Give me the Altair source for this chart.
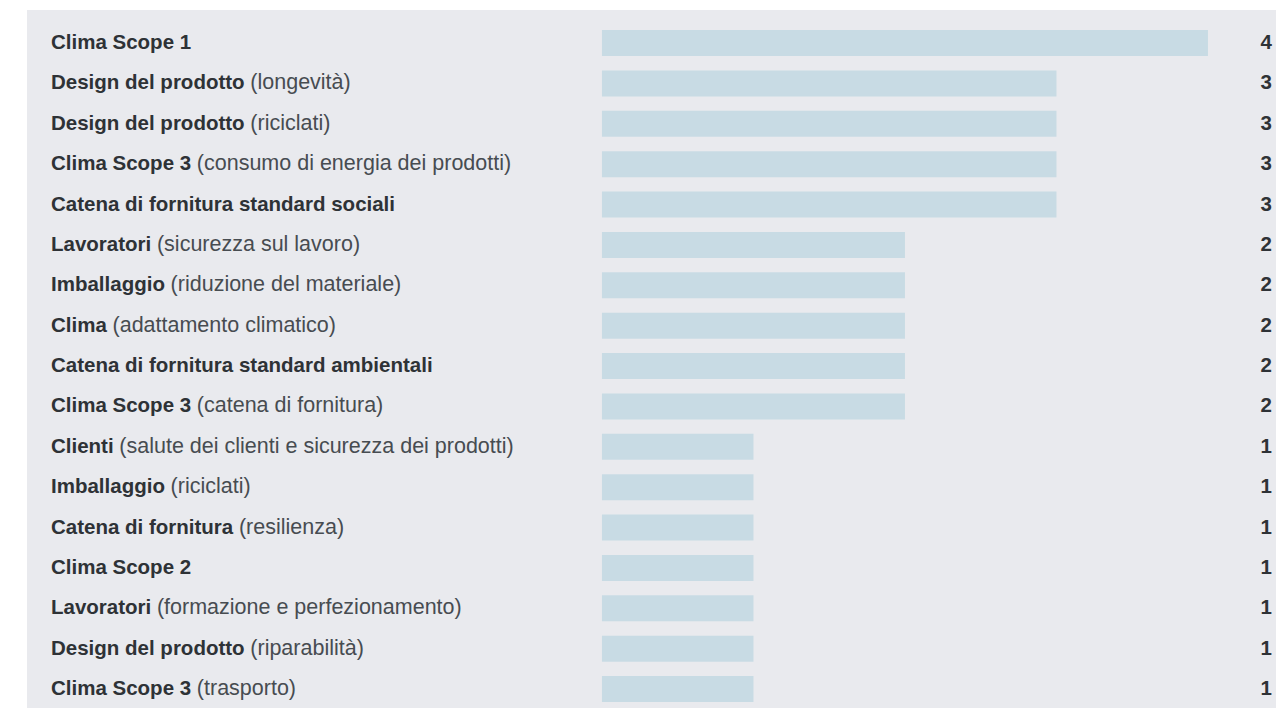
import altair as alt
import pandas as pd

bold_labels = [
    "Clima Scope 1",
    "Design del prodotto",
    "Design del prodotto",
    "Clima Scope 3",
    "Catena di fornitura standard sociali",
    "Lavoratori",
    "Imballaggio",
    "Clima",
    "Catena di fornitura standard ambientali",
    "Clima Scope 3",
    "Clienti",
    "Imballaggio",
    "Catena di fornitura",
    "Clima Scope 2",
    "Lavoratori",
    "Design del prodotto",
    "Clima Scope 3",
]
detail_labels = [
    "",
    "(longevità)",
    "(riciclati)",
    "(consumo di energia dei prodotti)",
    "",
    "(sicurezza sul lavoro)",
    "(riduzione del materiale)",
    "(adattamento climatico)",
    "",
    "(catena di fornitura)",
    "(salute dei clienti e sicurezza dei prodotti)",
    "(riciclati)",
    "(resilienza)",
    "",
    "(formazione e perfezionamento)",
    "(riparabilità)",
    "(trasporto)",
]
counts = [4, 3, 3, 3, 3, 2, 2, 2, 2, 2, 1, 1, 1, 1, 1, 1, 1]

# Liberation Sans Bold (Arial-compatible) advance widths per 1000 em
BOLD_W = {
    " ": 278, "C": 722, "D": 722, "I": 278, "L": 611, "S": 667,
    "a": 556, "b": 611, "c": 556, "d": 611, "e": 556, "f": 333, "g": 611,
    "h": 611, "i": 278, "l": 278, "m": 889, "n": 611, "o": 611, "p": 611,
    "r": 389, "s": 556, "t": 333, "u": 611, "v": 556,
    "1": 556, "2": 556, "3": 556,
}
FONT = "Liberation Sans"
BOLD_SIZE = 20.5
REG_SIZE = 21.5
LABEL_X = 24


def bold_width(s):
    return sum(BOLD_W.get(c, 556) for c in s) * BOLD_SIZE / 1000.0


rows = []
for i, (b, d, v) in enumerate(zip(bold_labels, detail_labels, counts)):
    rows.append(
        {
            "key": f"{i:02d}",
            "bold": b,
            "detail": d,
            "value": v,
            "detail_x": LABEL_X + bold_width(b + " "),
        }
    )
df = pd.DataFrame(rows)

yenc = alt.Y(
    "key:N",
    sort=None,
    axis=None,
    scale=alt.Scale(paddingInner=0.356, paddingOuter=0.322, align=0.77),
)
xscale = alt.Scale(domain=[-3.795, 4.449], nice=False, zero=False)

base = alt.Chart(df)

bars = base.mark_bar(color="#c8dbe4").encode(
    x=alt.X("value:Q", scale=xscale, axis=None),
    x2=alt.datum(0),
    y=yenc,
)

bold_text = base.mark_text(
    align="left", baseline="middle", font=FONT, fontWeight="bold",
    fontSize=BOLD_SIZE, color="#2e3236",
).encode(x=alt.value(LABEL_X), y=yenc, text="bold:N")

detail_text = base.mark_text(
    align="left", baseline="middle", font=FONT, fontWeight="normal",
    fontSize=REG_SIZE, color="#474c51",
).encode(x=alt.X("detail_x:Q", scale=None), y=yenc, text="detail:N")

value_text = base.mark_text(
    align="right", baseline="middle", font=FONT, fontWeight="bold",
    fontSize=BOLD_SIZE, color="#2e3236",
).encode(x=alt.value(1245), y=yenc, text="value:Q")

chart = (
    alt.layer(bars, bold_text, detail_text, value_text)
    .properties(
        width=1249,
        height=698,
        padding={"left": 27, "top": 10, "right": 0, "bottom": 1},
        background="white",
        autosize=alt.AutoSizeParams(type="none"),
    )
    .configure_view(fill="#e9eaee", stroke=None)
)

chart.save("out.html", embed_options={"renderer": "svg", "actions": False})
